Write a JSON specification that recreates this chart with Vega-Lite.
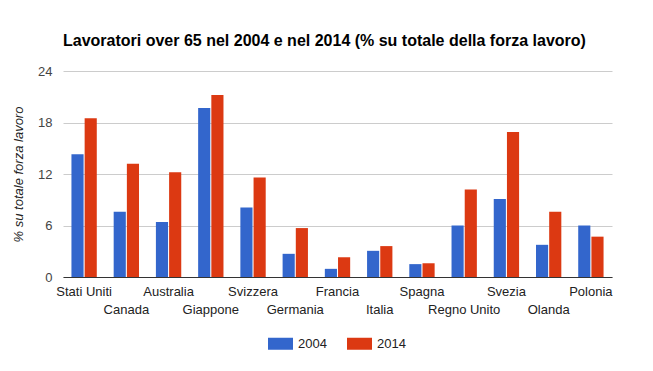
{
  "$schema": "https://vega.github.io/schema/vega-lite/v6.json",
  "autosize": {"type": "none"},
  "width": 549,
  "height": 206,
  "padding": {"left": 63, "top": 71, "right": 41, "bottom": 94},
  "background": "white",
  "title": {
    "text": "Lavoratori over 65 nel 2004 e nel 2014 (% su totale della forza lavoro)",
    "anchor": "start",
    "frame": "group",
    "font": "Liberation Sans",
    "fontSize": 16,
    "fontWeight": "bold",
    "color": "#000000",
    "offset": 16
  },
  "data": {
    "values": [
      {"paese": "Stati Uniti", "anno": "2004", "valore": 14.3},
      {"paese": "Stati Uniti", "anno": "2014", "valore": 18.5},
      {"paese": "Canada", "anno": "2004", "valore": 7.6},
      {"paese": "Canada", "anno": "2014", "valore": 13.2},
      {"paese": "Australia", "anno": "2004", "valore": 6.4},
      {"paese": "Australia", "anno": "2014", "valore": 12.2},
      {"paese": "Giappone", "anno": "2004", "valore": 19.7},
      {"paese": "Giappone", "anno": "2014", "valore": 21.2},
      {"paese": "Svizzera", "anno": "2004", "valore": 8.1},
      {"paese": "Svizzera", "anno": "2014", "valore": 11.6},
      {"paese": "Germania", "anno": "2004", "valore": 2.7},
      {"paese": "Germania", "anno": "2014", "valore": 5.7},
      {"paese": "Francia", "anno": "2004", "valore": 0.95},
      {"paese": "Francia", "anno": "2014", "valore": 2.3},
      {"paese": "Italia", "anno": "2004", "valore": 3.05},
      {"paese": "Italia", "anno": "2014", "valore": 3.6},
      {"paese": "Spagna", "anno": "2004", "valore": 1.5},
      {"paese": "Spagna", "anno": "2014", "valore": 1.6},
      {"paese": "Regno Unito", "anno": "2004", "valore": 6.0},
      {"paese": "Regno Unito", "anno": "2014", "valore": 10.2},
      {"paese": "Svezia", "anno": "2004", "valore": 9.1},
      {"paese": "Svezia", "anno": "2014", "valore": 16.9},
      {"paese": "Olanda", "anno": "2004", "valore": 3.75},
      {"paese": "Olanda", "anno": "2014", "valore": 7.6},
      {"paese": "Polonia", "anno": "2004", "valore": 6.0},
      {"paese": "Polonia", "anno": "2014", "valore": 4.7}
    ]
  },
  "mark": {"type": "bar"},
  "encoding": {
    "x": {
      "field": "paese",
      "type": "nominal",
      "sort": ["Stati Uniti", "Canada", "Australia", "Giappone", "Svizzera", "Germania", "Francia", "Italia", "Spagna", "Regno Unito", "Svezia", "Olanda", "Polonia"],
      "scale": {"paddingInner": 0.4, "paddingOuter": 0.2},
      "axis": {
        "title": null,
        "labelAngle": 0,
        "labelOverlap": false,
        "labelFont": "Liberation Sans",
        "labelFontSize": 13,
        "labelColor": "#222222",
        "labelBaseline": "top",
        "labelPadding": {
          "condition": {"test": "indexof(['Canada','Giappone','Germania','Italia','Regno Unito','Olanda'], datum.value) >= 0", "value": 26},
          "value": 8
        },
        "ticks": false,
        "domainColor": "#333333",
        "domainWidth": 1,
        "grid": false
      }
    },
    "xOffset": {"field": "anno", "type": "nominal", "scale": {"paddingInner": 0.08}},
    "y": {
      "field": "valore",
      "type": "quantitative",
      "scale": {"domain": [0, 24], "nice": false},
      "axis": {
        "title": "% su totale forza lavoro",
        "titleFont": "Liberation Sans",
        "titleFontSize": 13,
        "titleFontStyle": "italic",
        "titleFontWeight": "normal",
        "titleColor": "#222222",
        "titlePadding": 12,
        "values": [0, 6, 12, 18, 24],
        "labelFont": "Liberation Sans",
        "labelFontSize": 13,
        "labelColor": "#444444",
        "labelPadding": 11,
        "ticks": false,
        "domain": false,
        "gridColor": "#cccccc",
        "gridWidth": 1
      }
    },
    "color": {
      "field": "anno",
      "type": "nominal",
      "scale": {"domain": ["2004", "2014"], "range": ["#3366cc", "#dc3912"]},
      "legend": {
        "title": null,
        "orient": "none",
        "direction": "horizontal",
        "legendX": 205,
        "legendY": 260,
        "padding": 0,
        "symbolType": "M-1,-0.48H1V0.48H-1Z",
        "symbolSize": 625,
        "symbolStrokeWidth": 0,
        "symbolOpacity": 1,
        "labelFont": "Liberation Sans",
        "labelFontSize": 13,
        "labelColor": "#222222",
        "labelOffset": 5,
        "columnPadding": 20
      }
    }
  },
  "config": {
    "view": {"stroke": null},
    "axisY": {"zindex": 0},
    "axisX": {"zindex": 1}
  }
}
